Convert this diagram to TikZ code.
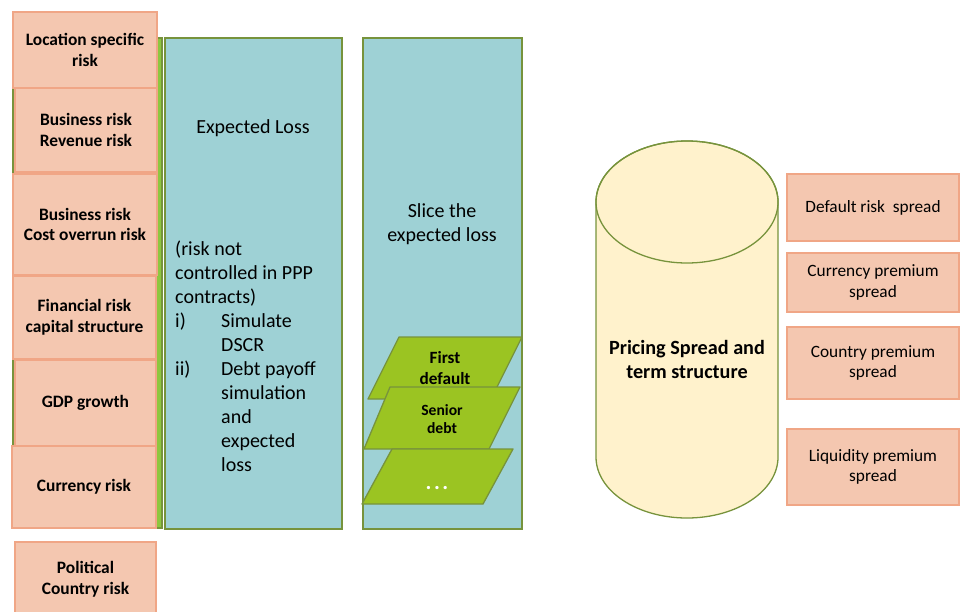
\documentclass[tikz,border=0pt]{standalone}
\usepackage{fontspec}
\setmainfont{Carlito}
\usetikzlibrary{positioning}
\definecolor{riskfill}{RGB}{244,199,176}
\definecolor{riskline}{RGB}{240,166,134}
\definecolor{lossfill}{RGB}{158,209,213}
\definecolor{leafgreen}{RGB}{155,196,34}
\definecolor{bargreen}{RGB}{141,198,63}
\definecolor{edgegreen}{RGB}{119,147,60}
\definecolor{cylfill}{RGB}{255,242,204}

\begin{document}
\begin{tikzpicture}[
  x=1pt, y=-1pt,
  riskbox/.style={draw=riskline, fill=riskfill, line width=1.5pt, align=center, inner sep=2pt, font=\fontsize{17.4}{20.5}\selectfont\bfseries},
  spreadbox/.style={draw=riskline, fill=riskfill, line width=1.5pt, align=center, minimum width=172pt, inner sep=2pt, font=\fontsize{17.3}{20.5}\selectfont},
  lossbox/.style={draw=edgegreen, fill=lossfill, line width=1.3pt, minimum height=491pt},
  tranche/.style={draw=edgegreen, fill=leafgreen, line width=1.3pt, line join=round},
  caption/.style={align=center, inner sep=0pt, font=\fontsize{20}{24}\selectfont},
]
\useasboundingbox (0,0) rectangle (965,611);

% green strip behind the risk column
\node[draw=edgegreen, fill=bargreen, line width=1.3pt, minimum width=149pt, minimum height=490pt] (riskbar) at (87.5,283) {};

% risk drivers
\node[riskbox, minimum width=144pt, minimum height=76pt] (loc) at (85,50) {Location specific\\risk};
\node[riskbox, minimum width=142pt, minimum height=84pt] (rev) at (86,130) {Business risk\\Revenue risk};
\node[riskbox, minimum width=144pt, minimum height=101pt] (cost) at (85,224.5) {Business risk\\Cost overrun risk};
\node[riskbox, minimum width=143pt, minimum height=83pt] (fin) at (84.5,317.5) {Financial risk\\capital structure};
\node[riskbox, minimum width=141pt, minimum height=86pt] (gdp) at (85.5,403) {GDP growth};
\node[riskbox, minimum width=144pt, minimum height=82pt] (fx) at (84,487) {Currency risk};
\node[riskbox, minimum width=141pt, minimum height=74pt] (pol) at (85.5,579) {Political\\Country risk};

% expected loss column
\node[lossbox, minimum width=177pt] (el) at (253.5,283.5) {};
\node[caption] (eltitle) at (253,128) {Expected Loss};
\node[caption, align=left, anchor=west] (elbody) at (175,356) {(risk not\\controlled in PPP\\contracts)\\
  \makebox[46pt][l]{i)}Simulate\\\hspace*{46pt}DSCR\\
  \makebox[46pt][l]{ii)}Debt payoff\\\hspace*{46pt}simulation\\\hspace*{46pt}and\\\hspace*{46pt}expected\\\hspace*{46pt}loss};

% slicing column with tranches
\node[lossbox, minimum width=159pt] (slice) at (442.5,283.5) {};
\node[caption] (slicetitle) at (442,224) {Slice the\\expected loss};
\filldraw[tranche] (368,399) -- (399,337) -- (522,337) -- (491,399) -- cycle;
\node[caption, font=\fontsize{17.2}{21}\selectfont\bfseries] (first) at (445,368) {First\\default};
\filldraw[tranche] (364,449) -- (390,387) -- (520,387) -- (489,449) -- cycle;
\node[caption, font=\fontsize{15.6}{18}\selectfont\bfseries] (senior) at (442,419) {Senior\\debt};
\filldraw[tranche] (362,504) -- (392,449) -- (513,449) -- (483,504) -- cycle;
\node[caption, text=white, font=\fontsize{22}{22}\selectfont\bfseries] (rest) at (437,488) {.\kern2.5pt.\kern2.5pt.};

% pricing cylinder
\filldraw[draw=edgegreen, fill=cylfill, line width=1.3pt]
  (596,202) -- (596,457) arc[start angle=180, end angle=0, x radius=91, y radius=61]
  -- (778,202) arc[start angle=0, end angle=-180, x radius=91, y radius=61] -- cycle;
\draw[edgegreen, line width=1.3pt] (687,202) ellipse [x radius=91, y radius=61];
\node[caption, font=\fontsize{20.2}{24}\selectfont\bfseries] (pricing) at (687,359) {Pricing Spread and\\term structure};

% spread components
\node[spreadbox, minimum height=67pt] (dflt) at (873,207.5) {Default risk~ spread};
\node[spreadbox, minimum height=59pt] (curr) at (873,282.5) {Currency premium\\spread};
\node[spreadbox, minimum height=72pt] (ctry) at (873,363) {Country premium\\spread};
\node[spreadbox, minimum height=76pt] (liq) at (873,467) {Liquidity premium\\spread};
\end{tikzpicture}
\end{document}
